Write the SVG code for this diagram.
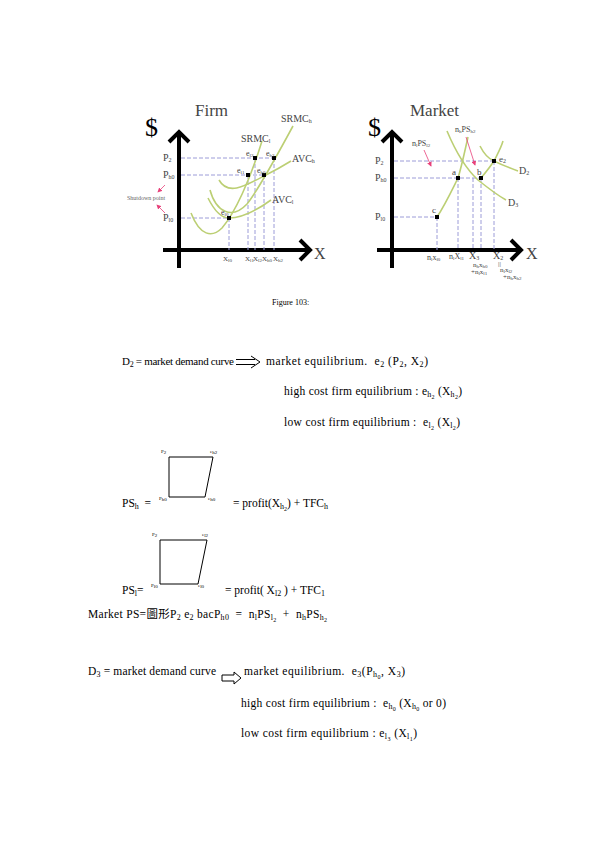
<svg xmlns="http://www.w3.org/2000/svg" width="596" height="842" viewBox="0 0 596 842">
<style>
text{font-family:"Liberation Serif","Noto Sans CJK TC",serif;fill:#000}
.g text{fill:#444}
.ax{stroke:#000;stroke-width:4;fill:none}
.cv{stroke:#bccf74;stroke-width:1.6;fill:none}
.dl{stroke:#9c9cd8;stroke-width:1;stroke-dasharray:4 2;fill:none}
.ra{stroke:#e8407a;stroke-width:0.8;fill:none;marker-end:url(#rh)}
.bx{stroke:#000;stroke-width:1;fill:none}
.t{font-size:11.5px}
.ar{stroke:#000;stroke-width:1;fill:none}
</style>
<defs>
<marker id="rh" markerWidth="6" markerHeight="6" refX="5" refY="3" orient="auto"><path d="M0,0 L6,3 L0,6 z" fill="#e8407a"/></marker>
</defs>

<g id="firm-graph" class="g">
 <text x="195" y="116" font-size="17">Firm</text>
 <text x="145" y="136" font-size="26" style="fill:#000">$</text>
 <line class="ax" x1="179" y1="132" x2="179" y2="268"/>
 <polyline class="ax" points="169,142 179,132 189,142"/>
 <line class="ax" x1="163" y1="250" x2="310" y2="250"/>
 <polyline class="ax" points="300,240 310,250 300,260"/>
 <text x="314" y="259" font-size="16">X</text>
 <text x="163" y="161" font-size="10">P<tspan font-size="6" dy="1">2</tspan></text>
 <text x="163" y="178" font-size="10">P<tspan font-size="6" dy="1">h0</tspan></text>
 <text x="163" y="221" font-size="10">P<tspan font-size="6" dy="1">l0</tspan></text>
 <text x="127" y="200" font-size="6" style="fill:#666">Shutdown point</text>
 <line class="ra" x1="165" y1="185" x2="158" y2="192"/>
 <line class="ra" x1="165" y1="213" x2="157" y2="205"/>
 <path class="dl" d="M181,158H274 M181,175H264 M181,218H229 M229,218V250 M248,175V250 M255,158V250 M264,175V250 M274,158V250"/>
 <path class="cv" d="M191,213 C200,236 212,238 222,228 C235,213 250,180 262,141"/>
 <path class="cv" d="M208,198 C215,212 222,218 229,218 C245,218 260,208 271,200"/>
 <path class="cv" d="M210,190 C216,212 232,220 247,204 C257,192 280,150 293,126"/>
 <path class="cv" d="M219,180 C228,196 245,186 264,176 C274,171 283,166 291,161"/>
 <g fill="#000"><rect x="227" y="216" width="4" height="4"/><rect x="246" y="173" width="4" height="4"/><rect x="253" y="156" width="4" height="4"/><rect x="262" y="173" width="4" height="4"/><rect x="272" y="156" width="4" height="4"/></g>
 <text x="281" y="122" font-size="10">SRMC<tspan font-size="6" dy="1">h</tspan></text>
 <text x="241" y="142" font-size="10">SRMC<tspan font-size="6" dy="1">l</tspan></text>
 <text x="292" y="162" font-size="10">AVC<tspan font-size="6" dy="1">h</tspan></text>
 <text x="272" y="203" font-size="10">AVC<tspan font-size="6" dy="1">l</tspan></text>
 <text x="246" y="156" font-size="8">e<tspan font-size="5" dy="1">l2</tspan></text>
 <text x="266" y="156" font-size="8">e<tspan font-size="5" dy="1">h2</tspan></text>
 <text x="237" y="173" font-size="8">e<tspan font-size="5" dy="1">l1</tspan></text>
 <text x="257" y="173" font-size="8">e<tspan font-size="5" dy="1">h0</tspan></text>
 <text x="221" y="215" font-size="8">e<tspan font-size="5" dy="1">l0</tspan></text>
 <text x="223" y="261" font-size="7">X<tspan font-size="5" dy="1">l0</tspan></text>
 <text x="245" y="261" font-size="7">X<tspan font-size="5" dy="1">l1</tspan></text>
 <text x="253" y="261" font-size="7">X<tspan font-size="5" dy="1">l2</tspan></text>
 <text x="262" y="261" font-size="7">X<tspan font-size="5" dy="1">h0</tspan></text>
 <text x="273" y="261" font-size="7">X<tspan font-size="5" dy="1">h2</tspan></text>
</g>

<g id="market-graph" class="g">
 <text x="410" y="116" font-size="17">Market</text>
 <text x="368" y="136" font-size="26" style="fill:#000">$</text>
 <line class="ax" x1="392" y1="132" x2="392" y2="268"/>
 <polyline class="ax" points="382,142 392,132 402,142"/>
 <line class="ax" x1="377" y1="250" x2="521" y2="250"/>
 <polyline class="ax" points="511,240 521,250 511,260"/>
 <text x="526" y="259" font-size="16">X</text>
 <text x="375" y="164" font-size="10">P<tspan font-size="6" dy="1">2</tspan></text>
 <text x="375" y="181" font-size="10">P<tspan font-size="6" dy="1">h0</tspan></text>
 <text x="375" y="220" font-size="10">P<tspan font-size="6" dy="1">l0</tspan></text>
 <path class="dl" d="M394,161H494 M394,178H481 M394,217H437 M437,217V250 M458,178V250 M473,178V250 M481,178V250 M494,161V250"/>
 <path class="cv" d="M437,217 C445,205 452,190 458,178 C462,165 465,150 468,137"/>
 <path class="cv" d="M481,178 C486,172 490,167 494,161 C498,153 501,148 503,141"/>
 <path class="cv" d="M480,146 C484,154 489,159 494,161 C502,165 510,168 518,171"/>
 <path class="cv" d="M447,131 C455,150 465,168 478,180 C488,188 497,195 506,200"/>
 <g fill="#000"><rect x="435" y="215" width="4" height="4"/><rect x="456" y="176" width="4" height="4"/><rect x="479" y="176" width="4" height="4"/><rect x="492" y="159" width="4" height="4"/></g>
 <text x="432" y="213" font-size="9">c</text>
 <text x="452" y="175" font-size="9">a</text>
 <text x="477" y="175" font-size="9">b</text>
 <text x="499" y="162" font-size="9">e<tspan font-size="6" dy="1">2</tspan></text>
 <text x="519" y="174" font-size="10">D<tspan font-size="6" dy="1">2</tspan></text>
 <text x="508" y="206" font-size="10">D<tspan font-size="6" dy="1">3</tspan></text>
 <text x="412" y="146" font-size="8">n<tspan font-size="5" dy="1">l</tspan><tspan dy="-1">PS</tspan><tspan font-size="5" dy="1">l2</tspan></text>
 <text x="455" y="132" font-size="8">n<tspan font-size="5" dy="1">h</tspan><tspan dy="-1">PS</tspan><tspan font-size="5" dy="1">h2</tspan></text>
 <line class="ra" x1="424" y1="150" x2="431" y2="166"/>
 <line class="ra" x1="466" y1="137" x2="475" y2="165"/>
 <text x="427" y="260" font-size="8">n<tspan font-size="5" dy="1">l</tspan><tspan dy="-1">x</tspan><tspan font-size="5" dy="1">l0</tspan></text>
 <text x="449" y="259" font-size="8">n<tspan font-size="5" dy="1">l</tspan><tspan dy="-1">X</tspan><tspan font-size="5" dy="1">l1</tspan></text>
 <text x="469" y="259" font-size="10">X<tspan font-size="6" dy="1">3</tspan></text>
 <text x="473" y="267" font-size="7">n<tspan font-size="5" dy="1">h</tspan><tspan dy="-1">x</tspan><tspan font-size="5" dy="1">h0</tspan></text>
 <text x="471" y="274" font-size="7">+n<tspan font-size="5" dy="1">l</tspan><tspan dy="-1">x</tspan><tspan font-size="5" dy="1">l1</tspan></text>
 <text x="493" y="259" font-size="10">X<tspan font-size="6" dy="1">2</tspan></text>
 <text x="498" y="266" font-size="7">||</text>
 <text x="500" y="272" font-size="7">n<tspan font-size="5" dy="1">l</tspan><tspan dy="-1">x</tspan><tspan font-size="5" dy="1">l2</tspan></text>
 <text x="503" y="279" font-size="7">+n<tspan font-size="5" dy="1">h</tspan><tspan dy="-1">x</tspan><tspan font-size="5" dy="1">h2</tspan></text>
</g>

<text id="caption" x="272" y="305" font-size="8">Figure 103:</text>

<g id="block-d2" class="t">
 <text x="122" y="365" xml:space="preserve" font-size="11" textLength="112">D<tspan font-size="8" dy="2">2</tspan><tspan dy="-2"> = market demand curve</tspan></text>
 <path class="ar" d="M236,359.5H255 M236,364.5H255 M251,356L260,362L251,368"/>
 <text x="266" y="365" xml:space="preserve" textLength="162">market equilibrium.  e<tspan font-size="8" dy="2">2</tspan><tspan dy="-2"> (P</tspan><tspan font-size="8" dy="2">2</tspan><tspan dy="-2">, X</tspan><tspan font-size="8" dy="2">2</tspan><tspan dy="-2">)</tspan></text>
 <text x="284" y="395" xml:space="preserve" textLength="178">high cost firm equilibrium : e<tspan font-size="8" dy="2">h</tspan><tspan font-size="6" dy="1.5">2</tspan><tspan dy="-3.5"> (X</tspan><tspan font-size="8" dy="2">h</tspan><tspan font-size="6" dy="1.5">2</tspan><tspan dy="-3.5">)</tspan></text>
 <text x="284" y="426" xml:space="preserve" textLength="176">low cost firm equilibrium :  e<tspan font-size="8" dy="2">l</tspan><tspan font-size="6" dy="1.5">2</tspan><tspan dy="-3.5"> (X</tspan><tspan font-size="8" dy="2">l</tspan><tspan font-size="6" dy="1.5">2</tspan><tspan dy="-3.5">)</tspan></text>
</g>

<g id="ps-high">
 <polygon class="bx" points="169,457 213,457 205,497 169,497"/>
 <text x="161" y="453" font-size="5">P<tspan dy="1">2</tspan></text>
 <text x="210" y="453" font-size="5">e<tspan dy="1">h2</tspan></text>
 <text x="159" y="500" font-size="5">P<tspan dy="1">h0</tspan></text>
 <text x="208" y="500" font-size="5">e<tspan dy="1">h0</tspan></text>
 <text class="t" x="122" y="507" xml:space="preserve">PS<tspan font-size="8" dy="2">h</tspan><tspan dy="-2">  =</tspan></text>
 <text class="t" x="233" y="507" xml:space="preserve">= profit(X<tspan font-size="8" dy="2">h</tspan><tspan font-size="6" dy="1.5">2</tspan><tspan dy="-3.5">) + TFC</tspan><tspan font-size="8" dy="2">h</tspan></text>
</g>

<g id="ps-low">
 <polygon class="bx" points="160,540 207,540 198,584 160,584"/>
 <text x="152" y="536" font-size="5">P<tspan dy="1">2</tspan></text>
 <text x="202" y="536" font-size="5">e<tspan dy="1">l2</tspan></text>
 <text x="151" y="587" font-size="5">P<tspan dy="1">l0</tspan></text>
 <text x="198" y="587" font-size="5">e<tspan dy="1">l0</tspan></text>
 <text class="t" x="122" y="594" xml:space="preserve">PS<tspan font-size="8" dy="2">l</tspan><tspan dy="-2">=</tspan></text>
 <text class="t" x="225" y="594" xml:space="preserve">= profit( X<tspan font-size="8" dy="2">l2</tspan><tspan dy="-2"> ) + TFC</tspan><tspan font-size="8" dy="2">1</tspan></text>
</g>

<text id="market-ps" class="t" x="88" y="618" xml:space="preserve" textLength="239">Market PS=圖形P<tspan font-size="8" dy="2">2</tspan><tspan dy="-2"> e</tspan><tspan font-size="8" dy="2">2</tspan><tspan dy="-2"> bacP</tspan><tspan font-size="8" dy="2">h0</tspan><tspan dy="-2">  =  n</tspan><tspan font-size="8" dy="2">l</tspan><tspan dy="-2">PS</tspan><tspan font-size="8" dy="2">l</tspan><tspan font-size="6" dy="1.5">2</tspan><tspan dy="-3.5">  +  n</tspan><tspan font-size="8" dy="2">h</tspan><tspan dy="-2">PS</tspan><tspan font-size="8" dy="2">h</tspan><tspan font-size="6" dy="1.5">2</tspan></text>

<g id="block-d3" class="t">
 <text x="88" y="675" xml:space="preserve" textLength="128">D<tspan font-size="8" dy="2">3</tspan><tspan dy="-2"> = market demand curve</tspan></text>
 <polygon class="ar" points="222,675 234,675 234,672 241,678 234,684 234,681 222,681"/>
 <text x="244" y="675" xml:space="preserve" textLength="161">market equilibrium.  e<tspan font-size="8" dy="2">3</tspan><tspan dy="-2">(P</tspan><tspan font-size="8" dy="2">h</tspan><tspan font-size="6" dy="1.5">0</tspan><tspan dy="-3.5">, X</tspan><tspan font-size="8" dy="2">3</tspan><tspan dy="-2">)</tspan></text>
 <text x="241" y="707" xml:space="preserve" textLength="205">high cost firm equilibrium :  e<tspan font-size="8" dy="2">h</tspan><tspan font-size="6" dy="1.5">0</tspan><tspan dy="-3.5"> (X</tspan><tspan font-size="8" dy="2">h</tspan><tspan font-size="6" dy="1.5">0</tspan><tspan dy="-3.5"> or 0)</tspan></text>
 <text x="241" y="737" xml:space="preserve" textLength="176">low cost firm equilibrium : e<tspan font-size="8" dy="2">l</tspan><tspan font-size="6" dy="1.5">3</tspan><tspan dy="-3.5"> (X</tspan><tspan font-size="8" dy="2">l</tspan><tspan font-size="6" dy="1.5">1</tspan><tspan dy="-3.5">)</tspan></text>
</g>
</svg>
